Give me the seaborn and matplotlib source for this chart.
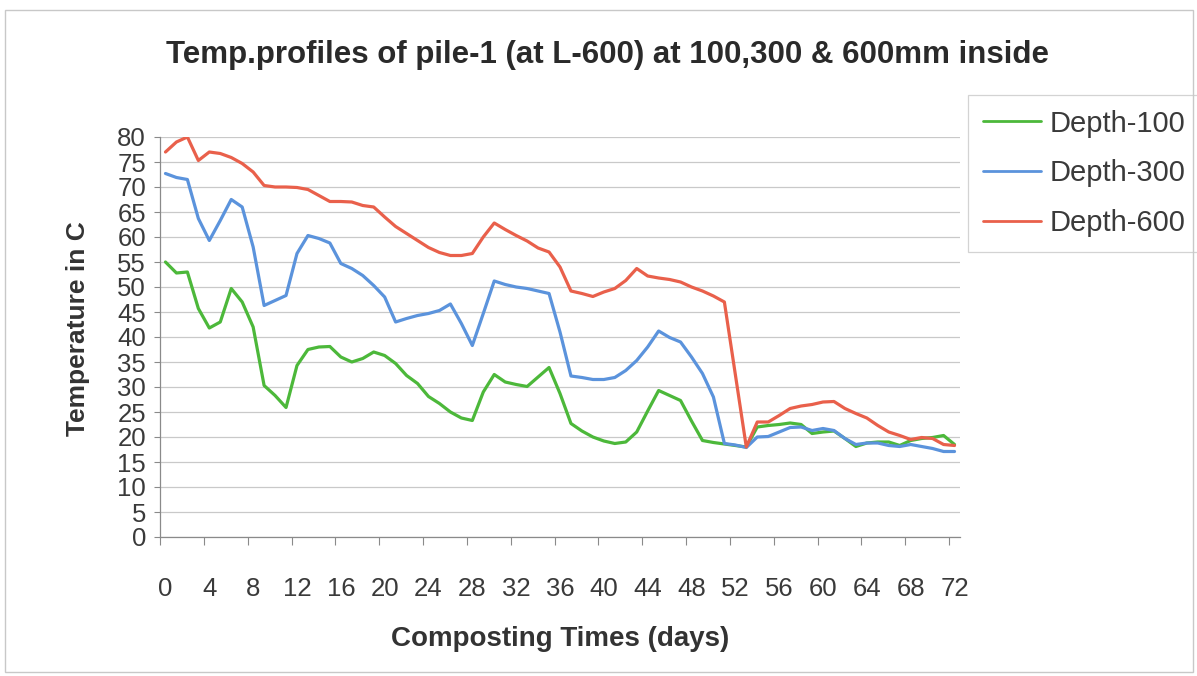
import numpy as np
import pandas as pd
import matplotlib
matplotlib.use("Agg")
import matplotlib.pyplot as plt
from matplotlib.patches import Rectangle
import seaborn as sns

# Composting pile-1 temperature records (deg C), one reading per day
days = list(range(73))

depth_100 = [55.0, 52.8, 53.0, 45.7, 41.8, 43.0, 49.7, 47.0, 42.0, 30.3,
             28.3, 25.9, 34.3, 37.5, 38.0, 38.1, 36.0, 35.0, 35.7, 37.0,
             36.3, 34.7, 32.3, 30.7, 28.1, 26.7, 25.0, 23.8, 23.3, 29.0,
             32.5, 31.0, 30.5, 30.1, 32.0, 33.9, 28.7, 22.7, 21.2, 20.0,
             19.2, 18.7, 19.0, 21.0, 25.2, 29.3, 28.3, 27.3, 23.2, 19.3,
             18.9, 18.6, 18.3, 18.0, 22.0, 22.3, 22.5, 22.8, 22.5, 20.7,
             21.0, 21.2, 19.7, 18.1, 18.8, 19.0, 19.0, 18.3, 19.3, 19.7,
             19.9, 20.3, 18.5]

depth_300 = [72.7, 71.9, 71.5, 63.7, 59.3, 63.3, 67.5, 66.0, 58.0, 46.3,
             47.3, 48.3, 56.7, 60.3, 59.7, 58.8, 54.7, 53.7, 52.3, 50.3,
             48.0, 43.0, 43.7, 44.3, 44.7, 45.3, 46.6, 42.7, 38.3, 44.7,
             51.2, 50.5, 50.0, 49.7, 49.2, 48.7, 41.0, 32.2, 31.9, 31.5,
             31.5, 31.9, 33.3, 35.3, 38.0, 41.2, 39.9, 39.0, 36.0, 32.7,
             28.0, 18.7, 18.4, 17.9, 20.0, 20.1, 21.0, 21.9, 22.0, 21.3,
             21.7, 21.3, 19.7, 18.5, 18.8, 18.8, 18.3, 18.1, 18.5, 18.1,
             17.7, 17.1, 17.1]

depth_600 = [77.0, 79.0, 80.0, 75.3, 77.0, 76.7, 75.9, 74.7, 73.0, 70.3,
             70.0, 70.0, 69.9, 69.5, 68.3, 67.1, 67.1, 67.0, 66.3, 66.0,
             64.0, 62.1, 60.7, 59.3, 57.9, 56.9, 56.3, 56.3, 56.7, 60.0,
             62.8, 61.5, 60.3, 59.2, 57.8, 57.0, 54.0, 49.2, 48.7, 48.1,
             49.0, 49.7, 51.3, 53.7, 52.2, 51.8, 51.5, 51.0, 50.0, 49.2,
             48.2, 47.0, 32.5, 18.0, 23.0, 23.0, 24.3, 25.7, 26.2, 26.5,
             27.0, 27.1, 25.7, 24.7, 23.8, 22.3, 21.0, 20.3, 19.5, 19.9,
             19.7, 18.5, 18.3]

series_names = ["Depth-100", "Depth-300", "Depth-600"]
series_colors = ["#4cb83a", "#5b93dc", "#e9604b"]
x_tick_labels = [str(d) for d in range(0, 73, 4)]
y_ticks = list(range(0, 81, 5))

df = pd.DataFrame({
    "day": days * 3,
    "temp": depth_100 + depth_300 + depth_600,
    "series": sum([[n] * len(days) for n in series_names], []),
})

sns.set_theme(style="white")
plt.rcParams["font.family"] = ["Liberation Sans", "DejaVu Sans"]

fig = plt.figure(figsize=(11.97, 6.76), dpi=100)
fig.patch.set_facecolor("white")
ax = fig.add_axes([160 / 1197, 1 - 537 / 676, 800 / 1197, 400 / 676])

sns.lineplot(data=df, x="day", y="temp", hue="series",
             hue_order=series_names, palette=series_colors,
             linewidth=2.3, ax=ax, legend=False)

# value axis
ax.set_ylim(0, 80)
ax.set_yticks(y_ticks)
ax.set_yticklabels([str(v) for v in y_ticks])
ax.yaxis.grid(True, color="#c9c9c9", linewidth=0.9)
ax.xaxis.grid(False)
ax.tick_params(axis="y", which="major", direction="out", length=4,
               width=0.8, color="#8a8a8a", pad=6, labelsize=18.5,
               labelcolor="#3a3a3a", left=True)

# category axis: tick marks between categories, labels on categories
ax.set_xlim(-0.5, 72.5)
ax.set_xticks(np.arange(-0.5, 72.5, 4))
ax.set_xticklabels([])
ax.set_xticks(np.arange(0, 73, 4), minor=True)
ax.set_xticklabels(x_tick_labels, minor=True)
ax.tick_params(axis="x", which="major", direction="out", length=6,
               width=0.8, color="#8a8a8a", bottom=True)
ax.tick_params(axis="x", which="minor", length=0, pad=29, labelsize=18.5,
               labelcolor="#3a3a3a", bottom=True)

for side in ["top", "right"]:
    ax.spines[side].set_visible(False)
for side in ["left", "bottom"]:
    ax.spines[side].set_color("#8a8a8a")
    ax.spines[side].set_linewidth(0.9)

ax.set_xlabel("Composting Times (days)", fontsize=20, fontweight="bold",
              color="#333333")
ax.xaxis.set_label_coords(0.5, -0.222)
ax.set_ylabel("Temperature in C", fontsize=19, fontweight="bold",
              color="#333333")
ax.yaxis.set_label_coords(-0.088, 0.52)

fig.suptitle("Temp.profiles of pile-1 (at L-600) at 100,300 & 600mm inside",
             x=607 / 1197, y=1 - 55 / 676, va="center", fontsize=22.5,
             fontweight="bold", color="#2a2a2a")

handles = [plt.Line2D([], [], color=c, linewidth=2.0) for c in series_colors]
leg = ax.legend(handles, series_names, loc="upper left",
                bbox_to_anchor=(968 / 1197, 1 - 95 / 676),
                bbox_transform=fig.transFigure, fontsize=21,
                frameon=True, fancybox=False, edgecolor="#c8c8c8",
                handlelength=2.0, handletextpad=0.3, labelspacing=0.75,
                borderpad=0.5, borderaxespad=0)
for t in leg.get_texts():
    t.set_color("#3a3a3a")
leg.get_frame().set_linewidth(0.9)

# outer chart border
fig.patches.append(Rectangle((5 / 1197, 4 / 676), 1188 / 1197, 662 / 676,
                             transform=fig.transFigure, fill=False,
                             edgecolor="#c8c8c8", linewidth=1.0))

fig.savefig("out.png", dpi=100)
